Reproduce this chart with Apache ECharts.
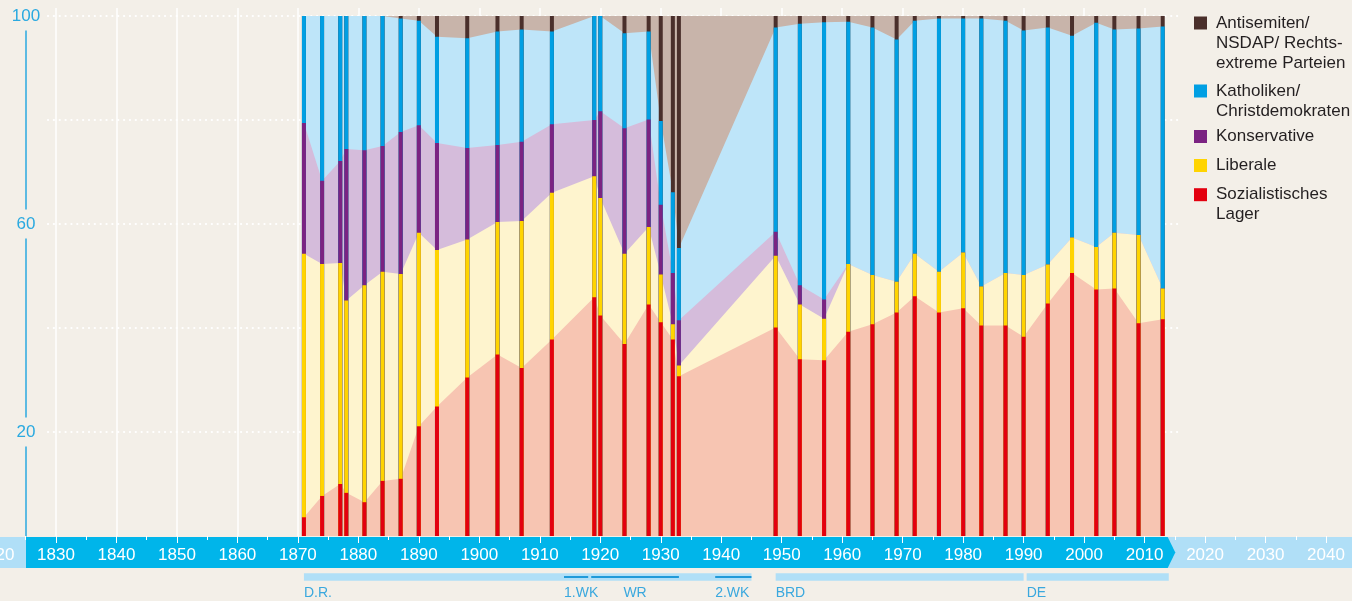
<!DOCTYPE html>
<html>
<head>
<meta charset="utf-8">
<script src="https://cdn.jsdelivr.net/npm/echarts@6/dist/echarts.min.js"></script>
<style>
html,body{margin:0;padding:0;background:#f3efe8;}
#chart{width:1352px;height:601px;}
</style>
</head>
<body>
<div id="chart"></div>
<script>
// ---------- DATA (vote shares in %) ----------
const years = [1871,1874,1877,1878,1881,1884,1887,1890,1893,1898,1903,1907,1912,1919,1920,1924,1928,1930,1932,1933,
               1949,1953,1957,1961,1965,1969,1972,1976,1980,1983,1987,1990,1994,1998,2002,2005,2009,2013];
const sozialistisch = [3.6,7.7,10.0,8.3,6.5,10.6,11.0,21.1,24.9,30.5,34.9,32.3,37.8,45.9,42.4,36.9,44.5,41.1,37.8,30.7,
                       40.1,34.0,33.8,39.3,40.7,43.0,46.1,43.0,43.8,40.5,40.5,38.3,44.7,50.6,47.4,47.6,40.9,41.7];
const liberale = [50.7,44.6,42.5,37.0,41.7,40.2,39.4,37.2,30.1,26.5,25.5,28.3,28.2,23.3,22.6,17.4,14.9,9.2,2.9,2.1,
                  13.8,10.5,8.0,13.0,9.5,5.9,8.2,7.8,10.7,7.5,10.1,11.9,7.5,6.8,8.2,10.7,17.0,5.9];
const konservative = [25.1,16.0,19.6,29.1,26.0,24.2,27.3,20.7,20.6,17.6,14.8,15.2,13.2,10.8,16.7,24.1,20.7,13.4,9.9,8.7,
                      4.6,3.7,3.7,0,0,0,0,0,0,0,0,0,0,0,0,0,0,0];
const katholiken = [20.6,31.7,27.9,25.6,25.8,25.0,21.8,20.1,20.4,21.1,21.8,21.6,17.8,20.0,18.3,18.3,16.9,16.1,15.5,13.9,
                    39.3,50.3,53.3,46.6,47.6,46.6,44.8,48.7,45.0,51.5,48.5,47.0,45.6,38.8,43.1,39.1,39.7,50.4];
const rechtsextreme = [0,0,0,0,0,0,0.5,0.9,4.0,4.3,3.0,2.6,3.0,0,0,3.3,3.0,20.2,33.9,44.6,
                       2.2,1.5,1.2,1.1,2.2,4.5,0.9,0.5,0.5,0.5,0.9,2.8,2.2,3.8,1.3,2.6,2.4,2.0];

// series names, bottom -> top of the stack
const seriesNames = ['Sozialistisches Lager','Liberale','Konservative','Katholiken/ Christdemokraten','Antisemiten/ NSDAP/ Rechtsextreme Parteien'];
const legendLabels = ['Sozialistisches\nLager','Liberale','Konservative','Katholiken/\nChristdemokraten','Antisemiten/\nNSDAP/ Rechts-\nextreme Parteien'];

// periods below the axis
const periodStart = [1871, 1949, 1990.5];
const periodEnd   = [1945, 1990, 2014];
const periodLabels = ['D.R.', 'BRD', 'DE'];
const eventStart = [1914, 1918.5, 1939];
const eventEnd   = [1918, 1933, 1945];
const eventLabels = ['1.WK', 'WR', '2.WK'];

// ---------- STYLE ----------
const BG = '#f3efe8';
const barColors  = ['#e3000f', '#ffd400', '#7b2382', '#009fe3', '#4a2f2b'];
const areaColors = ['#f7c5b2', '#fef4ce', '#d5bcdb', '#bee5f9', '#c8b4aa'];
const AXIS_BLUE = '#2aa9e0';
const FONT = "'Liberation Sans', Arial, sans-serif";

// cumulative stack (built from the arrays above)
const layers = [sozialistisch, liberale, konservative, katholiken, rechtsextreme];
const cum = [];
let run = years.map(() => 0);
layers.forEach(arr => { run = run.map((r, i) => r + arr[i]); cum.push(run.slice()); });

const barSeries = [], areaSeries = [];
for (let i = layers.length - 1; i >= 0; i--) {
  const pts = years.map((y, k) => [y, cum[i][k]]);
  barSeries.push({
    type: 'bar', name: seriesNames[i], xAxisIndex: 0, yAxisIndex: 0,
    data: pts, barWidth: 4, barGap: '-100%', z: 3, silent: true,
    itemStyle: { color: barColors[i] }
  });
  areaSeries.push({
    type: 'line', name: seriesNames[i], xAxisIndex: 0, yAxisIndex: 0,
    data: pts, symbol: 'none', z: 2, silent: true,
    lineStyle: { width: 0, opacity: 0 },
    areaStyle: { color: areaColors[i], opacity: 1 }
  });
}

// legend: one component per entry, icon aligned to the first text line
const legendCenters = [23, 91, 136.5, 165.5, 194.7]; // top -> bottom entries
const legends = [];
for (let j = 0; j < 5; j++) {
  const idx = 4 - j;
  const nLines = legendLabels[idx].split('\n').length;
  legends.push({
    data: [{ name: seriesNames[idx], icon: 'rect' }],
    left: 1194, top: legendCenters[j] - (2 * nLines - 1) * 10, padding: 0,
    itemWidth: 13, itemHeight: 13, selectedMode: false,
    formatter: () => legendLabels[idx],
    textStyle: {
      color: '#231f20', fontSize: 17, fontFamily: FONT, lineHeight: 20,
      padding: [(nLines - 1) * 20, 0, 0, 4],
      rich: { r: {} }
    }
  });
}

const LABEL_FONT = "14px 'Liberation Sans Narrow', 'Liberation Sans', sans-serif";
function renderPeriod(params, api) {
  const a = api.coord([api.value(0), 1]);
  const b = api.coord([api.value(1), 0]);
  return {
    type: 'group',
    children: [
      { type: 'rect', shape: { x: a[0], y: a[1], width: b[0] - a[0], height: b[1] - a[1] }, style: { fill: '#b0dff7' } },
      { type: 'text', style: { text: periodLabels[params.dataIndex], x: a[0], y: b[1] + 12.6,
          fill: '#3aa8de', font: LABEL_FONT, align: 'left', verticalAlign: 'middle' } }
    ]
  };
}
function renderEvent(params, api) {
  const a = api.coord([api.value(0), 0.5]);
  const b = api.coord([api.value(1), 0.5]);
  const w = b[0] - a[0];
  const centered = w > 60;
  return {
    type: 'group',
    children: [
      { type: 'rect', shape: { x: a[0], y: a[1] - 1, width: w, height: 2 }, style: { fill: '#1f9ad9' } },
      { type: 'text', style: { text: eventLabels[params.dataIndex], x: centered ? a[0] + w / 2 : a[0], y: a[1] + 16.6,
          fill: '#3aa8de', font: LABEL_FONT, align: centered ? 'center' : 'left', verticalAlign: 'middle' } }
    ]
  };
}

const chart = echarts.init(document.getElementById('chart'), null, { renderer: 'canvas' });
chart.setOption({
  backgroundColor: BG,
  animation: false,
  textStyle: { fontFamily: FONT },
  grid: [
    { left: -4.5, right: -34.5, top: 16, height: 520, outerBoundsMode: 'none', containLabel: false },    // data
    { left: 48, right: 172, top: 16, height: 520, outerBoundsMode: 'none', containLabel: false },        // dotted value lines + labels
    { left: -4.5, right: 207.4, top: 8, height: 528, outerBoundsMode: 'none', containLabel: false },     // decade lines
    { left: -4.5, right: -34.5, top: 573.3, height: 7.4, outerBoundsMode: 'none', containLabel: false }  // periods
  ],
  xAxis: [
    { gridIndex: 0, type: 'value', min: 1820, max: 2050, interval: 10, z: 10, offset: 1,
      axisLine: { show: false }, splitLine: { show: false },
      axisTick: { show: true, length: 7, lineStyle: { color: '#ffffff', width: 1 } },
      minorTick: { show: true, splitNumber: 2, length: 4, lineStyle: { color: '#ffffff', width: 1 } },
      axisLabel: { color: '#ffffff', fontSize: 17, margin: 10, fontFamily: FONT, formatter: v => String(v) } },
    { gridIndex: 1, type: 'value', min: 0, max: 1, show: false },
    { gridIndex: 2, type: 'value', min: 1820, max: 2010, interval: 10,
      axisLine: { show: false }, axisTick: { show: false }, axisLabel: { show: false },
      splitLine: { show: true, lineStyle: { color: '#ffffff', width: 1.5 } } },
    { gridIndex: 3, type: 'value', min: 1820, max: 2050, show: false }
  ],
  yAxis: [
    { gridIndex: 0, type: 'value', min: 0, max: 100, show: false },
    { gridIndex: 1, type: 'value', min: 0, max: 100, interval: 20, offset: 22,
      axisLine: { show: true, onZero: false, lineStyle: { color: AXIS_BLUE, width: 1.5 } },
      axisTick: { show: false },
      splitLine: { show: true, showMinLine: false,
        lineStyle: { color: '#ffffff', width: 2.2, type: [0.1, 5.75], cap: 'round' } },
      axisLabel: { margin: 0, align: 'center',
        formatter: v => (v % 40 === 20 ? '{b|' + v + '}' : ''),
        rich: { b: { color: AXIS_BLUE, fontSize: 17, fontFamily: FONT, backgroundColor: BG, padding: [6, 3] } } } },
    { gridIndex: 2, type: 'value', min: 0, max: 1, show: false },
    { gridIndex: 3, type: 'value', min: 0, max: 1, show: false }
  ],
  legend: legends,
  graphic: [
    { type: 'rect', z: 1, silent: true, shape: { x: 0, y: 537, width: 1352, height: 31 }, style: { fill: '#b0dff7' } },
    { type: 'polygon', z: 1, silent: true,
      shape: { points: [[26, 537], [1167.7, 537], [1175.3, 552.5], [1167.7, 568], [26, 568]] },
      style: { fill: '#00b5ea' } }
  ],
  series: barSeries.concat(areaSeries).concat([
    { type: 'custom', xAxisIndex: 3, yAxisIndex: 3, silent: true, z: 2,
      data: periodStart.map((s, i) => [s, periodEnd[i]]), renderItem: renderPeriod },
    { type: 'custom', xAxisIndex: 3, yAxisIndex: 3, silent: true, z: 3,
      data: eventStart.map((s, i) => [s, eventEnd[i]]), renderItem: renderEvent }
  ])
});
</script>
</body>
</html>
